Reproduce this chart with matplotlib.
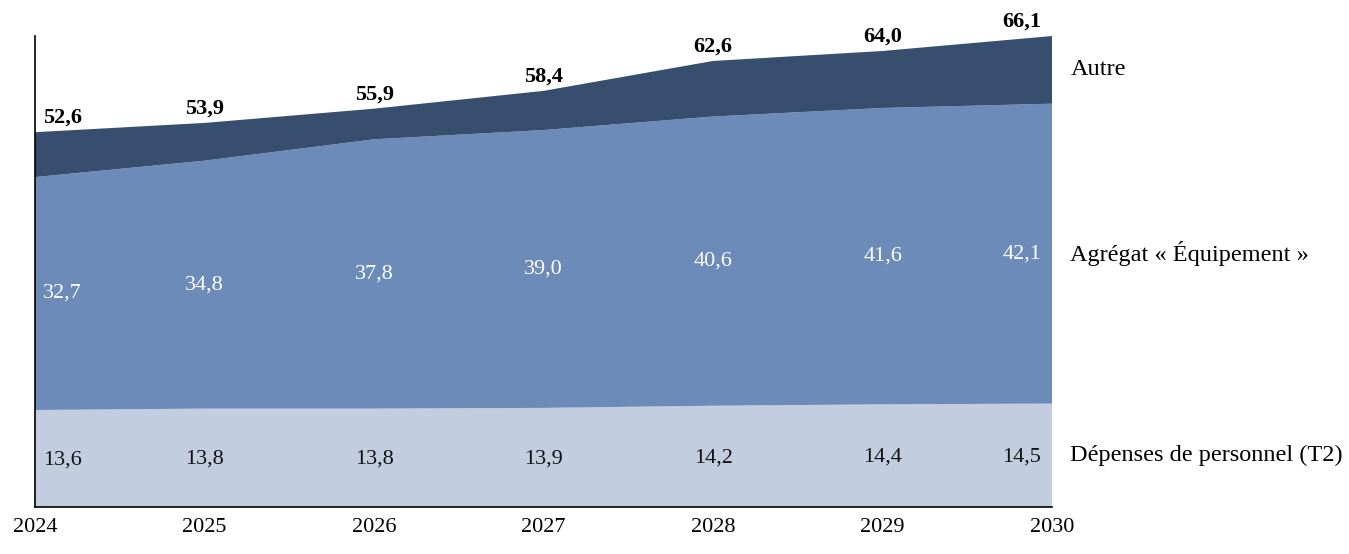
import matplotlib.pyplot as plt
import numpy as np

years = [2024, 2025, 2026, 2027, 2028, 2029, 2030]
personnel = [13.6, 13.8, 13.8, 13.9, 14.2, 14.4, 14.5]
equipement = [32.7, 34.8, 37.8, 39.0, 40.6, 41.6, 42.1]
totals = [52.6, 53.9, 55.9, 58.4, 62.6, 64.0, 66.1]
autre = [round(t - p - e, 1) for t, p, e in zip(totals, personnel, equipement)]

series_names = ["Dépenses de personnel (T2)", "Agrégat « Équipement »", "Autre"]
colors = ["#c2cde0", "#6c8bb8", "#374e6e"]

plt.rcParams["font.family"] = ["Liberation Serif", "DejaVu Serif"]


def fmt(v):
    return f"{v:.1f}".replace(".", ",")


fig = plt.figure(figsize=(13.49, 5.54), dpi=100)
ax = fig.add_axes([0.026, 0.085, 0.754, 0.85])

x = np.array(years)
ax.stackplot(x, personnel, equipement, autre, colors=colors, linewidth=0)
ax.set_xlim(years[0], years[-1])
ax.set_ylim(0, totals[-1])

for s in ["top", "right"]:
    ax.spines[s].set_visible(False)
ax.spines["left"].set_linewidth(1.2)
ax.spines["bottom"].set_linewidth(1.2)
ax.set_yticks([])
ax.set_xticks(years)
ax.set_xticklabels([str(y) for y in years], fontsize=16)
ax.tick_params(axis="x", length=0, pad=8)

n = len(years)
for i, yr in enumerate(years):
    if i == 0:
        ha, dx = "left", 6
    elif i == n - 1:
        ha, dx = "right", -8
    else:
        ha, dx = "center", 0
    p, e, t = personnel[i], equipement[i], totals[i]
    ax.annotate(fmt(p), (yr, p / 2), xytext=(dx, -1), textcoords="offset points",
                ha=ha, va="center", fontsize=16, color="#111111")
    ax.annotate(fmt(e), (yr, p + e / 2), xytext=(dx, 0), textcoords="offset points",
                ha=ha, va="center", fontsize=16, color="white")
    ax.annotate(fmt(t), (yr, t), xytext=(dx, 3), textcoords="offset points",
                ha=ha, va="bottom", fontsize=16, fontweight="bold", color="black")

# series names on the right
mids = [personnel[-1] / 2, personnel[-1] + equipement[-1] / 2,
        personnel[-1] + equipement[-1] + autre[-1] / 2]
for name, m in zip(series_names, mids):
    ax.annotate(name, (years[-1], m), xytext=(13, 0), textcoords="offset points",
                ha="left", va="center", fontsize=17.5, annotation_clip=False)

fig.savefig("out.png", dpi=100)
